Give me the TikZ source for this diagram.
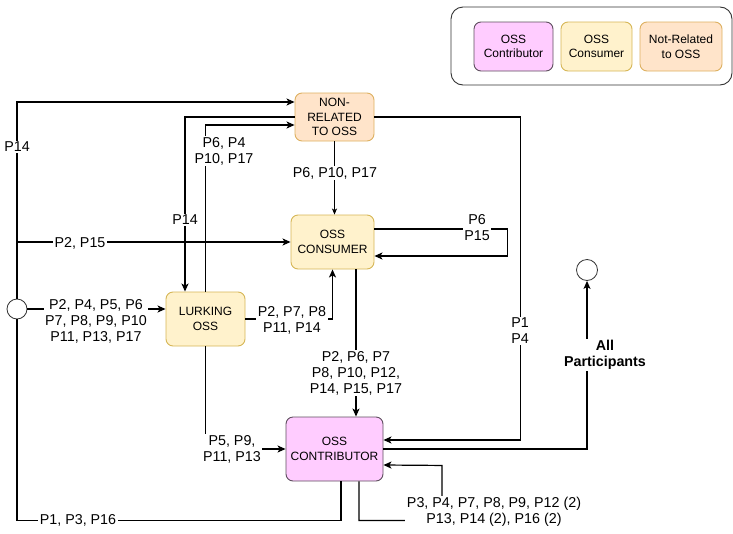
\documentclass[tikz,border=0pt]{standalone}
\usepackage{fontspec}
\setmainfont{Liberation Sans}
\usetikzlibrary{arrows.meta}
\definecolor{contribfill}{HTML}{FFCCFF}
\definecolor{contribline}{HTML}{5E4E5E}
\definecolor{consfill}{HTML}{FFF2CC}
\definecolor{consline}{HTML}{D6B656}
\definecolor{nonfill}{HTML}{FFE4CA}
\definecolor{nonline}{HTML}{DDB060}

\begin{document}
\begin{tikzpicture}[x=1pt, y=-1pt,
        box/.style={rectangle, rounded corners=7pt, line width=0.9pt, align=center, inner sep=2pt, font=\fontsize{12}{14.5}\selectfont},
        contribbox/.style={box, fill=contribfill, draw=contribline},
        consbox/.style={box, fill=consfill, draw=consline},
        nonbox/.style={box, fill=nonfill, draw=nonline},
        endpt/.style={circle, draw=black!80, fill=white, line width=0.8pt, minimum size=20pt, inner sep=0pt},
        flow/.style={line width=1.2pt, -{Stealth[length=8pt,width=7pt,inset=2pt]}},
        plain/.style={line width=1.2pt},
        thinflow/.style={line width=0.7pt, -{Stealth[length=6pt,width=5pt,inset=1.5pt]}},
        lbl/.style={fill=white, align=center, inner sep=1.5pt, font=\fontsize{14.3}{16}\selectfont}]
        \useasboundingbox (0,0) rectangle (733,533);

        % legend
        \node[draw=black!80, line width=0.9pt, rounded corners=12pt, minimum width=281, minimum height=78] (legend) at (591.5,46) {};
        \node[contribbox, minimum width=79, minimum height=49] (keycontrib) at (513.5,46.5) {OSS\\Contributor};
        \node[consbox, minimum width=71, minimum height=49] (keycons) at (596.5,46.5) {OSS\\Consumer};
        \node[nonbox, minimum width=82, minimum height=49] (keynon) at (681,46.5) {Not-Related\\to OSS};

        % states
        \node[nonbox, minimum width=79, minimum height=48] (nonrel) at (334.5,117) {NON-\\RELATED\\TO OSS};
        \node[consbox, minimum width=83, minimum height=54] (cons) at (332.5,242) {OSS\\CONSUMER};
        \node[consbox, minimum width=79, minimum height=54] (lurk) at (205.5,319) {LURKING\\OSS};
        \node[contribbox, minimum width=97, minimum height=64] (contrib) at (334.5,449) {OSS\\CONTRIBUTOR};
        \node[endpt] (start) at (17,309) {};
        \node[endpt, minimum size=21] (finish) at (587,270) {};

        % transitions
        \draw[flow] (start.north) |- ([yshift=15pt]nonrel.west); \draw[flow] (start.north |- cons.west) -- (cons.west); \draw[flow] (start.east) -- (start.east -| lurk.west);
        \draw[plain] (start.south) -- ++(0,201) -| ([xshift=6.5pt]contrib.south);
        \draw[flow] (lurk.north) |- ([yshift=-8pt]nonrel.west); \draw[flow] (nonrel.west) -| ([xshift=-20.5pt]lurk.north);
        \draw[thinflow] (nonrel.south) -- (nonrel.south |- cons.north);
        \draw[flow] ([yshift=13pt]cons.east) -- ++(133,0) |- ([yshift=-14pt]cons.east);
        \draw[flow] (lurk.east) -| (cons.south); \draw[flow] (lurk.south) |- (contrib.west);
        \draw[flow] ([xshift=23.5pt]cons.south) -- ([xshift=23.5pt]cons.south |- contrib.north);
        \draw[flow] (nonrel.east) -- ++(146,0) |- ([yshift=9pt]contrib.east);
        \draw[flow] (contrib.east) -| (finish.south);
        \draw[flow] ([xshift=24.5pt]contrib.south) -- ++(0,39) -| ++(83,-55) -- ([yshift=-16pt]contrib.east);

        % participants on each transition
        \node[lbl] (p14top) at (17,147) {P14};
        \node[lbl] (p2p15) at (80,243) {P2, P15};
        \node[lbl] (starttolurk) at (96,321) {P2, P4, P5, P6\\P7, P8, P9, P10\\P11, P13, P17};
        \node[lbl] (nontolurk) at (185,220) {P14};
        \node[lbl] (lurktonon) at (224,151) {P6, P4\\P10, P17};
        \node[lbl] (nontocons) at (335,173) {P6, P10, P17};
        \node[lbl] (consloop) at (477,228) {P6\\P15};
        \node[lbl] (lurktocons) at (292,320) {P2, P7, P8\\P11, P14};
        \node[lbl] (constocontrib) at (356,373) {P2, P6, P7\\P8, P10, P12,\\P14, P15, P17};
        \node[lbl] (lurktocontrib) at (232,449) {P5, P9,\\P11, P13};
        \node[lbl] (nontocontrib) at (520,331) {P1\\P4};
        \node[lbl, font=\fontsize{14.3}{16}\selectfont\bfseries] (allpart) at (605,355) {All\\Participants};
        \node[lbl] (contribtostart) at (78,520) {P1, P3, P16};
        \node[lbl] (contribloop) at (494,512) {P3, P4, P7, P8, P9, P12 (2)\\P13, P14 (2), P16 (2)};
    \end{tikzpicture}
\end{document}
